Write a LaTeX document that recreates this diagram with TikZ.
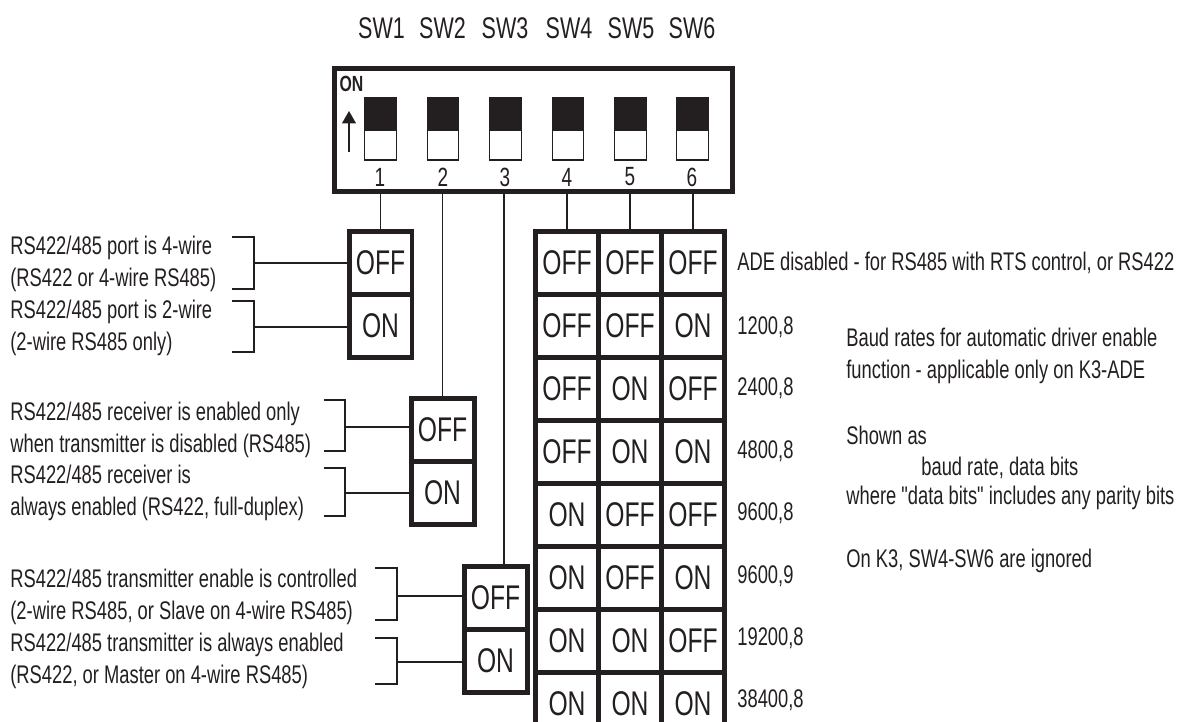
\documentclass[tikz,border=0pt]{standalone}
\usepackage{fontspec}
\setmainfont[FakeStretch=0.72,Ligatures=TeXOff]{Liberation Sans}
\usetikzlibrary{arrows.meta}
\definecolor{ink}{HTML}{231F20}
\tikzset{
  cell/.style={draw=ink, text=ink, line width=0.1cm, minimum width=1.26cm, minimum height=1.26cm,
    inner sep=0pt, outer sep=0pt, font=\fontsize{19.5}{21}\selectfont},
  wire/.style={draw=ink, line width=0.028cm},
  note/.style={anchor=west, align=left, inner sep=0pt, text=ink, font=\fontsize{14.5}{18.1}\selectfont},
  swname/.style={inner sep=0pt, text=ink, font=\fontsize{17}{19}\selectfont},
  swnum/.style={inner sep=0pt, text=ink, font=\fontsize{15}{17}\selectfont},
  swtop/.style={fill=ink, minimum width=0.65cm, minimum height=0.66cm, inner sep=0pt, outer sep=0pt},
  swbot/.style={draw=ink, line width=0.024cm, minimum width=0.63cm, minimum height=0.6cm, inner sep=0pt, outer sep=0pt}
}
\begin{document}
\begin{tikzpicture}[x=0.02cm, y=-0.02cm]
  \useasboundingbox (0,0) rectangle (1179,722);
  \clip (0,0) rectangle (1179,722);
  % dip switch body
  \node[draw=ink, line width=0.1cm, minimum width=7.98cm, minimum height=2.48cm, outer sep=0pt] (dip) at (533.5,130) {};
  \node[inner sep=0pt, text=ink, font=\fontsize{12.5}{14}\selectfont\bfseries] (onmark) at (351.5,84) {ON};
  \coordinate (arrowfoot) at (349,152);
  \coordinate (arrowtip) at (349,111);
  \draw[wire, -{Triangle[length=0.25cm, width=0.28cm]}] (arrowfoot) -- (arrowtip);
  \node[swname] (sw1) at (381.5,28) {SW1};
  \node[swname] (sw2) at (442.5,28) {SW2};
  \node[swname] (sw3) at (505,28) {SW3};
  \node[swname] (sw4) at (569,28) {SW4};
  \node[swname] (sw5) at (631,28) {SW5};
  \node[swname] (sw6) at (692,28) {SW6};
  \node[swbot] (bot1) at (380.5,145) {};
  \node[swbot] (bot2) at (443,145) {};
  \node[swbot] (bot3) at (505.5,145) {};
  \node[swbot] (bot4) at (568,145) {};
  \node[swbot] (bot5) at (630.5,145) {};
  \node[swbot] (bot6) at (692.5,145) {};
  \node[swtop] (top1) at (380.5,113.5) {};
  \node[swtop] (top2) at (443,113.5) {};
  \node[swtop] (top3) at (505.5,113.5) {};
  \node[swtop] (top4) at (568,113.5) {};
  \node[swtop] (top5) at (630.5,113.5) {};
  \node[swtop] (top6) at (692.5,113.5) {};
  \node[swnum] (num1) at (380,177) {1};
  \node[swnum] (num2) at (443,177) {2};
  \node[swnum] (num3) at (505,177) {3};
  \node[swnum] (num4) at (567,177) {4};
  \node[swnum] (num5) at (630,177) {5};
  \node[swnum] (num6) at (692,177) {6};
  % SW1 to SW3
  \node[cell] (off1) at (380.5,263) {OFF};
  \node[cell] (on1) at (380.5,326) {ON};
  \node[cell] (off2) at (442.5,430) {OFF};
  \node[cell] (on2) at (442.5,493) {ON};
  \node[cell] (off3) at (495.5,598) {OFF};
  \node[cell] (on3) at (495.5,661) {ON};
  % SW4 to SW6
  \node[cell] (a4) at (567,263) {OFF};
  \node[cell] (a5) at (630,263) {OFF};
  \node[cell] (a6) at (693,263) {OFF};
  \node[cell] (b4) at (567,326) {OFF};
  \node[cell] (b5) at (630,326) {OFF};
  \node[cell] (b6) at (693,326) {ON};
  \node[cell] (c4) at (567,389) {OFF};
  \node[cell] (c5) at (630,389) {ON};
  \node[cell] (c6) at (693,389) {OFF};
  \node[cell] (d4) at (567,452) {OFF};
  \node[cell] (d5) at (630,452) {ON};
  \node[cell] (d6) at (693,452) {ON};
  \node[cell] (e4) at (567,515) {ON};
  \node[cell] (e5) at (630,515) {OFF};
  \node[cell] (e6) at (693,515) {OFF};
  \node[cell] (f4) at (567,578) {ON};
  \node[cell] (f5) at (630,578) {OFF};
  \node[cell] (f6) at (693,578) {ON};
  \node[cell] (g4) at (567,641) {ON};
  \node[cell] (g5) at (630,641) {ON};
  \node[cell] (g6) at (693,641) {OFF};
  \node[cell] (h4) at (567,704) {ON};
  \node[cell] (h5) at (630,704) {ON};
  \node[cell] (h6) at (693,704) {ON};
  % wires from the body
  \coordinate (wire3) at (504,566);
  \draw[wire] (dip.south -| off1.north) -- (off1.north);
  \draw[wire] (dip.south -| off2.north) -- (off2.north);
  \draw[wire] (dip.south -| wire3) -- (wire3);
  \draw[wire] (dip.south -| a4.north) -- (a4.north);
  \draw[wire] (dip.south -| a5.north) -- (a5.north);
  \draw[wire] (dip.south -| a6.north) -- (a6.north);
  % left hand notes
  \node[note] (n1) at (10,264) {RS422/485 port is 4-wire\\(RS422 or 4-wire RS485)};
  \node[note] (n2) at (10,328) {RS422/485 port is 2-wire\\(2-wire RS485 only)};
  \node[note] (n3) at (10,430) {RS422/485 receiver is enabled only\\when transmitter is disabled (RS485)};
  \node[note] (n4) at (10,493) {RS422/485 receiver is\\always enabled (RS422, full-duplex)};
  \node[note] (n5) at (10,597) {RS422/485 transmitter enable is controlled\\(2-wire RS485, or Slave on 4-wire RS485)};
  \node[note] (n6) at (10,661) {RS422/485 transmitter is always enabled\\(RS422, or Master on 4-wire RS485)};
  % brackets
  \coordinate (k1a) at (232,237); \coordinate (k1m) at (254,263); \coordinate (k1b) at (232,289);
  \coordinate (k2a) at (232,301); \coordinate (k2m) at (254,327); \coordinate (k2b) at (232,352);
  \coordinate (k3a) at (324,400); \coordinate (k3m) at (345,427); \coordinate (k3b) at (324,451);
  \coordinate (k4a) at (324,468); \coordinate (k4m) at (345,493); \coordinate (k4b) at (324,516);
  \coordinate (k5a) at (375,568); \coordinate (k5m) at (397,596); \coordinate (k5b) at (375,620);
  \coordinate (k6a) at (375,638); \coordinate (k6m) at (397,662); \coordinate (k6b) at (375,684);
  \draw[wire] (k1a) -| (k1m) |- (k1b) (k1m) -- (k1m -| off1.west);
  \draw[wire] (k2a) -| (k2m) |- (k2b) (k2m) -- (k2m -| on1.west);
  \draw[wire] (k3a) -| (k3m) |- (k3b) (k3m) -- (k3m -| off2.west);
  \draw[wire] (k4a) -| (k4m) |- (k4b) (k4m) -- (k4m -| on2.west);
  \draw[wire] (k5a) -| (k5m) |- (k5b) (k5m) -- (k5m -| off3.west);
  \draw[wire] (k6a) -| (k6m) |- (k6b) (k6m) -- (k6m -| on3.west);
  % right hand notes
  \node[note] (ade) at (737,263) {ADE disabled - for RS485 with RTS control, or RS422};
  \node[note] (r2) at (737,327) {1200,8};
  \node[note] (r3) at (737,388) {2400,8};
  \node[note] (r4) at (737,451) {4800,8};
  \node[note] (r5) at (737,513) {9600,8};
  \node[note] (r6) at (737,576) {9600,9};
  \node[note] (r7) at (737,638) {19200,8};
  \node[note] (r8) at (737,700) {38400,8};
  \node[note] (baud) at (846,356) {Baud rates for automatic driver enable\\function - applicable only on K3-ADE};
  \node[note] (shown) at (846,435) {Shown as};
  \node[note] (fmt) at (921,468) {baud rate, data bits};
  \node[note] (where) at (846,498) {where "data bits" includes any parity bits};
  \node[note] (ignored) at (846,561) {On K3, SW4-SW6 are ignored};
\end{tikzpicture}
\end{document}
